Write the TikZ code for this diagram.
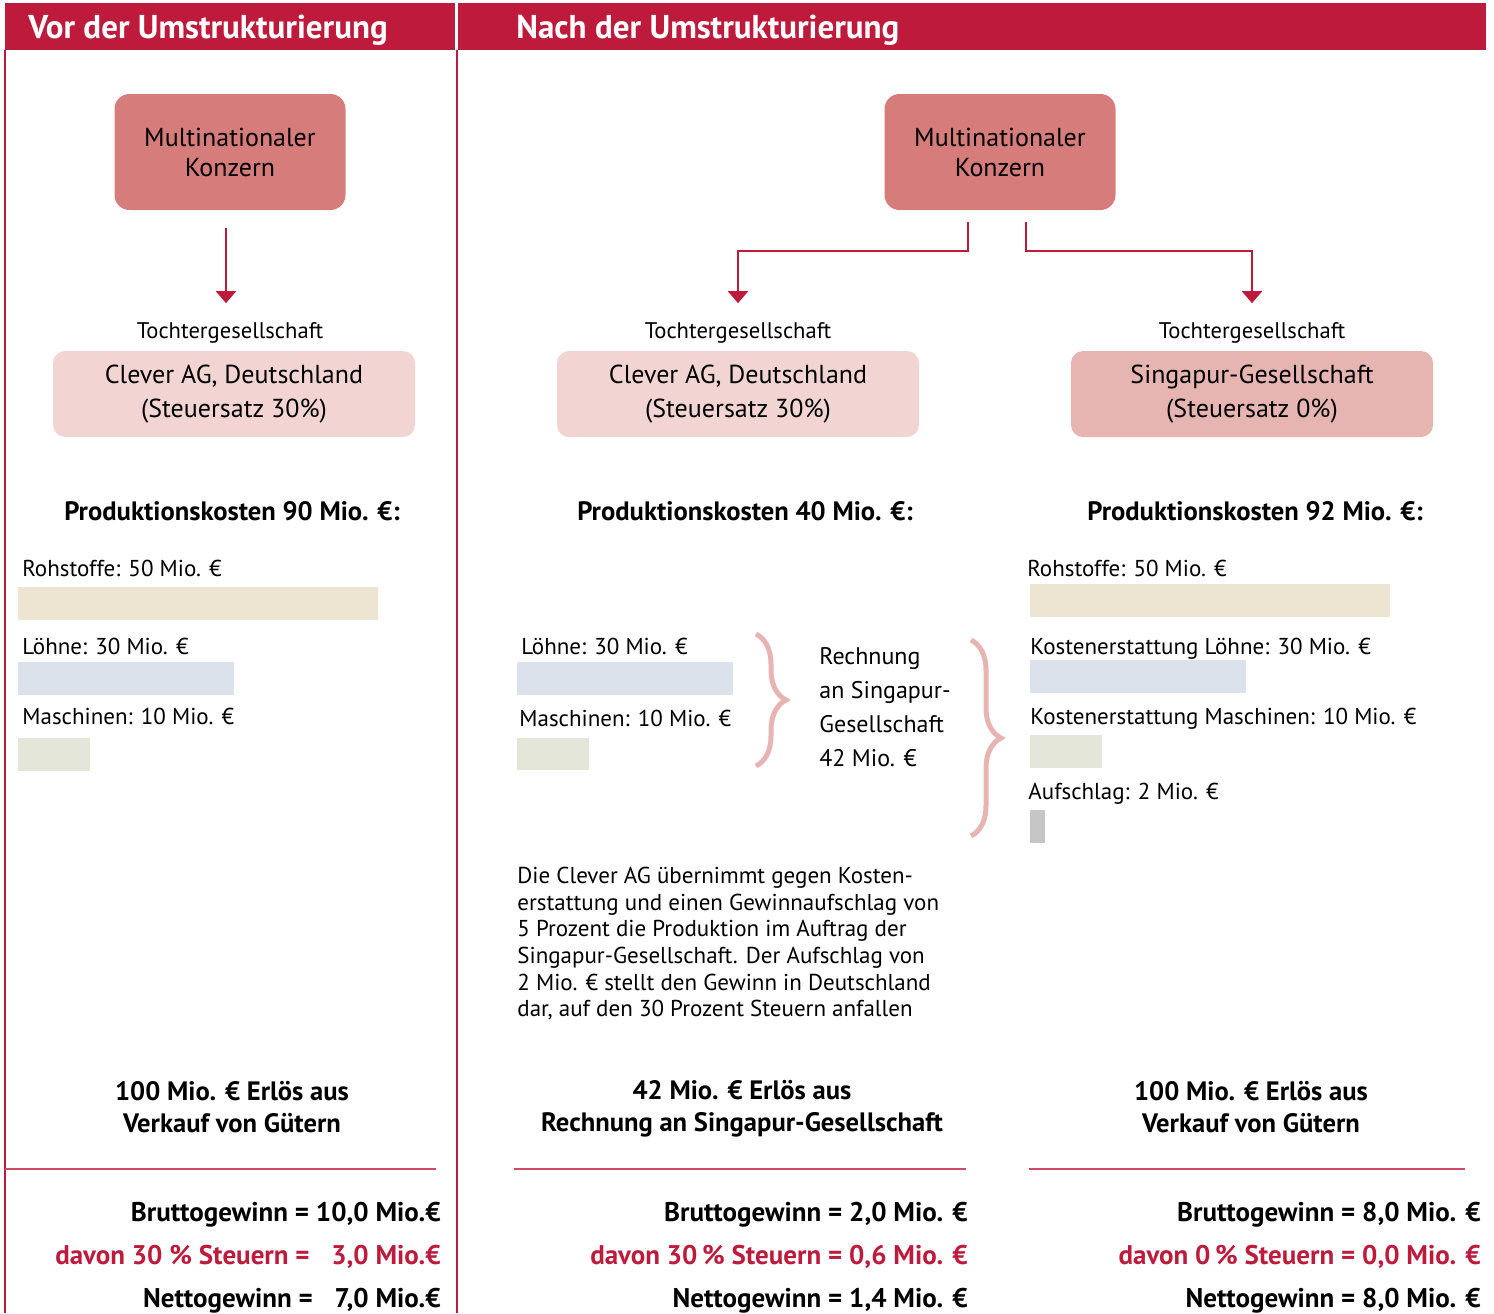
\documentclass[tikz,border=0pt]{standalone}
\usepackage{fontspec}
\setmainfont{PT Sans}
\usetikzlibrary{arrows.meta,decorations.pathreplacing}

\definecolor{hdrred}{HTML}{BE1B3C}
\definecolor{lnred}{HTML}{D04A64}
\definecolor{konzernfill}{HTML}{D67C7A}
\definecolor{cleverfill}{HTML}{F2D5D2}
\definecolor{singfill}{HTML}{E6B5B2}
\definecolor{rohcol}{HTML}{EDE4D2}
\definecolor{lohncol}{HTML}{DCE2EC}
\definecolor{maschcol}{HTML}{E4E6DA}
\definecolor{aufcol}{HTML}{C6C6C6}
\definecolor{bracecol}{HTML}{E8B4B1}

\tikzset{
  konzern/.style={fill=konzernfill, rounded corners=7.5pt, minimum width=115.5pt, minimum height=58pt, align=center, font=\fontsize{13}{15}\selectfont},
  tochter/.style={rounded corners=6pt, minimum width=181pt, minimum height=43pt, align=center, font=\fontsize{13}{17}\selectfont},
  fixed/.style={inner sep=0pt, text height=0.72em, text depth=0.22em, yshift=-1.5pt},
  tlabel/.style={fixed, font=\fontsize{11.3}{13}\selectfont},
  link/.style={draw=hdrred, line width=1pt, -{Triangle[width=10pt,length=6pt]}},
  lbl/.style={fixed, anchor=west, font=\fontsize{11.5}{13}\selectfont},
  heading/.style={inner sep=0pt, font=\bfseries\fontsize{13.3}{16}\selectfont},
  result/.style={fixed, anchor=east, font=\bfseries\fontsize{13.5}{16}\selectfont},
  curly/.style={draw=bracecol, line width=2.5pt, decorate, decoration={brace, amplitude=15pt}},
}

\begin{document}
\begin{tikzpicture}[x=0.5pt,y=-0.5pt]
\useasboundingbox (0,0) rectangle (1494,1313);

% header bands
\fill[hdrred] (5,3) rectangle (455,50);
\fill[hdrred] (458,3) rectangle (1486,50);
\node[anchor=west, inner sep=0pt, text=white, font=\bfseries\fontsize{16.5}{18}\selectfont] (hdrL) at (28,30) {Vor der Umstrukturierung};
\node[anchor=west, inner sep=0pt, text=white, font=\bfseries\fontsize{16.5}{18}\selectfont] (hdrR) at (516,30) {Nach der Umstrukturierung};
\draw[hdrred, line width=0.8pt] (5,50) -- (5,1313);
\draw[hdrred, line width=0.8pt] (457,50) -- (457,1313);

% companies
\node[konzern] (kL) at (230,152) {Multinationaler\\Konzern};
\node[konzern] (kM) at (1000,152) {Multinationaler\\Konzern};

\node[tlabel] (tlL) at (230,330) {Tochtergesellschaft};
\node[tlabel] (tlC) at (738,330) {Tochtergesellschaft};
\node[tlabel] (tlS) at (1252,330) {Tochtergesellschaft};

\node[tochter, fill=cleverfill] (bL) at (234,394) {Clever AG, Deutschland\\(Steuersatz 30\%)};
\node[tochter, fill=cleverfill] (bC) at (738,394) {Clever AG, Deutschland\\(Steuersatz 30\%)};
\node[tochter, fill=singfill] (bS) at (1252,394) {Singapur-Gesellschaft\\(Steuersatz 0\%)};

\draw[link, shorten <=9pt, shorten >=10pt] ([xshift=-2pt]kL.south) -- ([xshift=-2pt]tlL.north);
\draw[link, shorten >=10pt] ([xshift=-16pt,yshift=-6pt]kM.south) -- ++(0,29) -| (tlC.north);
\draw[link, shorten >=10pt] ([xshift=13pt,yshift=-6pt]kM.south) -- ++(0,29) -| (tlS.north);

% production costs
\node[heading] (pL) at (232,511) {Produktionskosten 90 Mio. €:};
\node[heading] (pC) at (745,511) {Produktionskosten 40 Mio. €:};
\node[heading] (pS) at (1255,511) {Produktionskosten 92 Mio. €:};

\node[lbl] (rohL) at (22,568) {Rohstoffe: 50 Mio. €};
\fill[rohcol] (18,587) rectangle (378,620);
\node[lbl] (lohnL) at (22,646) {Löhne: 30 Mio. €};
\fill[lohncol] (18,662) rectangle (234,695);
\node[lbl] (maschL) at (22,716) {Maschinen: 10 Mio. €};
\fill[maschcol] (18,738) rectangle (90,771);

\node[lbl] (lohnC) at (521,646) {Löhne: 30 Mio. €};
\fill[lohncol] (517,662) rectangle (733,695);
\node[lbl] (maschC) at (519,718) {Maschinen: 10 Mio. €};
\fill[maschcol] (517,738) rectangle (589,770);

\node[lbl] (rohS) at (1027,568) {Rohstoffe: 50 Mio. €};
\fill[rohcol] (1030,584) rectangle (1390,617);
\node[lbl] (lohnS) at (1030,646) {Kostenerstattung Löhne: 30 Mio. €};
\fill[lohncol] (1030,660) rectangle (1246,693);
\node[lbl] (maschS) at (1030,716) {Kostenerstattung Maschinen: 10 Mio. €};
\fill[maschcol] (1030,735) rectangle (1102,768);
\node[lbl] (aufS) at (1028,791) {Aufschlag: 2 Mio. €};
\fill[aufcol] (1030,810) rectangle (1045,843);

% invoice braces
\coordinate (brA1) at (756,634);
\coordinate (brA2) at (756,766);
\coordinate (brB1) at (971,640);
\coordinate (brB2) at (971,836);
\draw[curly] (brA1) -- (brA2);
\draw[curly] (brB1) -- (brB2);
\node[anchor=west, inner sep=0pt, align=left, font=\fontsize{12}{17}\selectfont] (rechnung) at (819,707) {Rechnung\\an Singapur-\\Gesellschaft\\42 Mio. €};

\node[anchor=north west, inner sep=0pt, align=left, font=\fontsize{11.5}{13.3}\selectfont] (note) at (517,867)
  {Die Clever AG übernimmt gegen Kosten-\\erstattung und einen Gewinnaufschlag von\\5 Prozent die Produktion im Auftrag der\\Singapur-Gesellschaft. Der Aufschlag von\\2 Mio. € stellt den Gewinn in Deutschland\\dar, auf den 30 Prozent Steuern anfallen};

% revenues
\node[heading, align=center] (eL) at (232,1107) {100 Mio. € Erlös aus\\Verkauf von Gütern};
\node[heading, align=center] (eC) at (742,1109) {42 Mio. € Erlös aus\\Rechnung an Singapur-Gesellschaft};
\node[heading, align=center] (eS) at (1251,1107) {100 Mio. € Erlös aus\\Verkauf von Gütern};

\draw[lnred, line width=0.6pt] (5,1169) -- (436,1169);
\draw[lnred, line width=0.6pt] (514,1169) -- (966,1169);
\draw[lnred, line width=0.6pt] (1029,1169) -- (1465,1169);

% results
\node[result] (gL) at (441,1213) {Bruttogewinn = 10,0 Mio.€};
\node[result, text=hdrred] (sL) at (441,1256) {davon 30 \% Steuern =\hspace{0.8em}3,0 Mio.€};
\node[result] (nL) at (441,1299) {Nettogewinn =\hspace{0.8em}7,0 Mio.€};

\node[result] (gC) at (968,1213) {Bruttogewinn = 2,0 Mio. €};
\node[result, text=hdrred] (sC) at (968,1256) {davon 30\,\% Steuern = 0,6 Mio. €};
\node[result] (nC) at (968,1299) {Nettogewinn = 1,4 Mio. €};

\node[result] (gS) at (1481,1213) {Bruttogewinn = 8,0 Mio. €};
\node[result, text=hdrred] (sS) at (1481,1256) {davon 0\,\% Steuern = 0,0 Mio. €};
\node[result] (nS) at (1481,1299) {Nettogewinn = 8,0 Mio. €};
\end{tikzpicture}
\end{document}
